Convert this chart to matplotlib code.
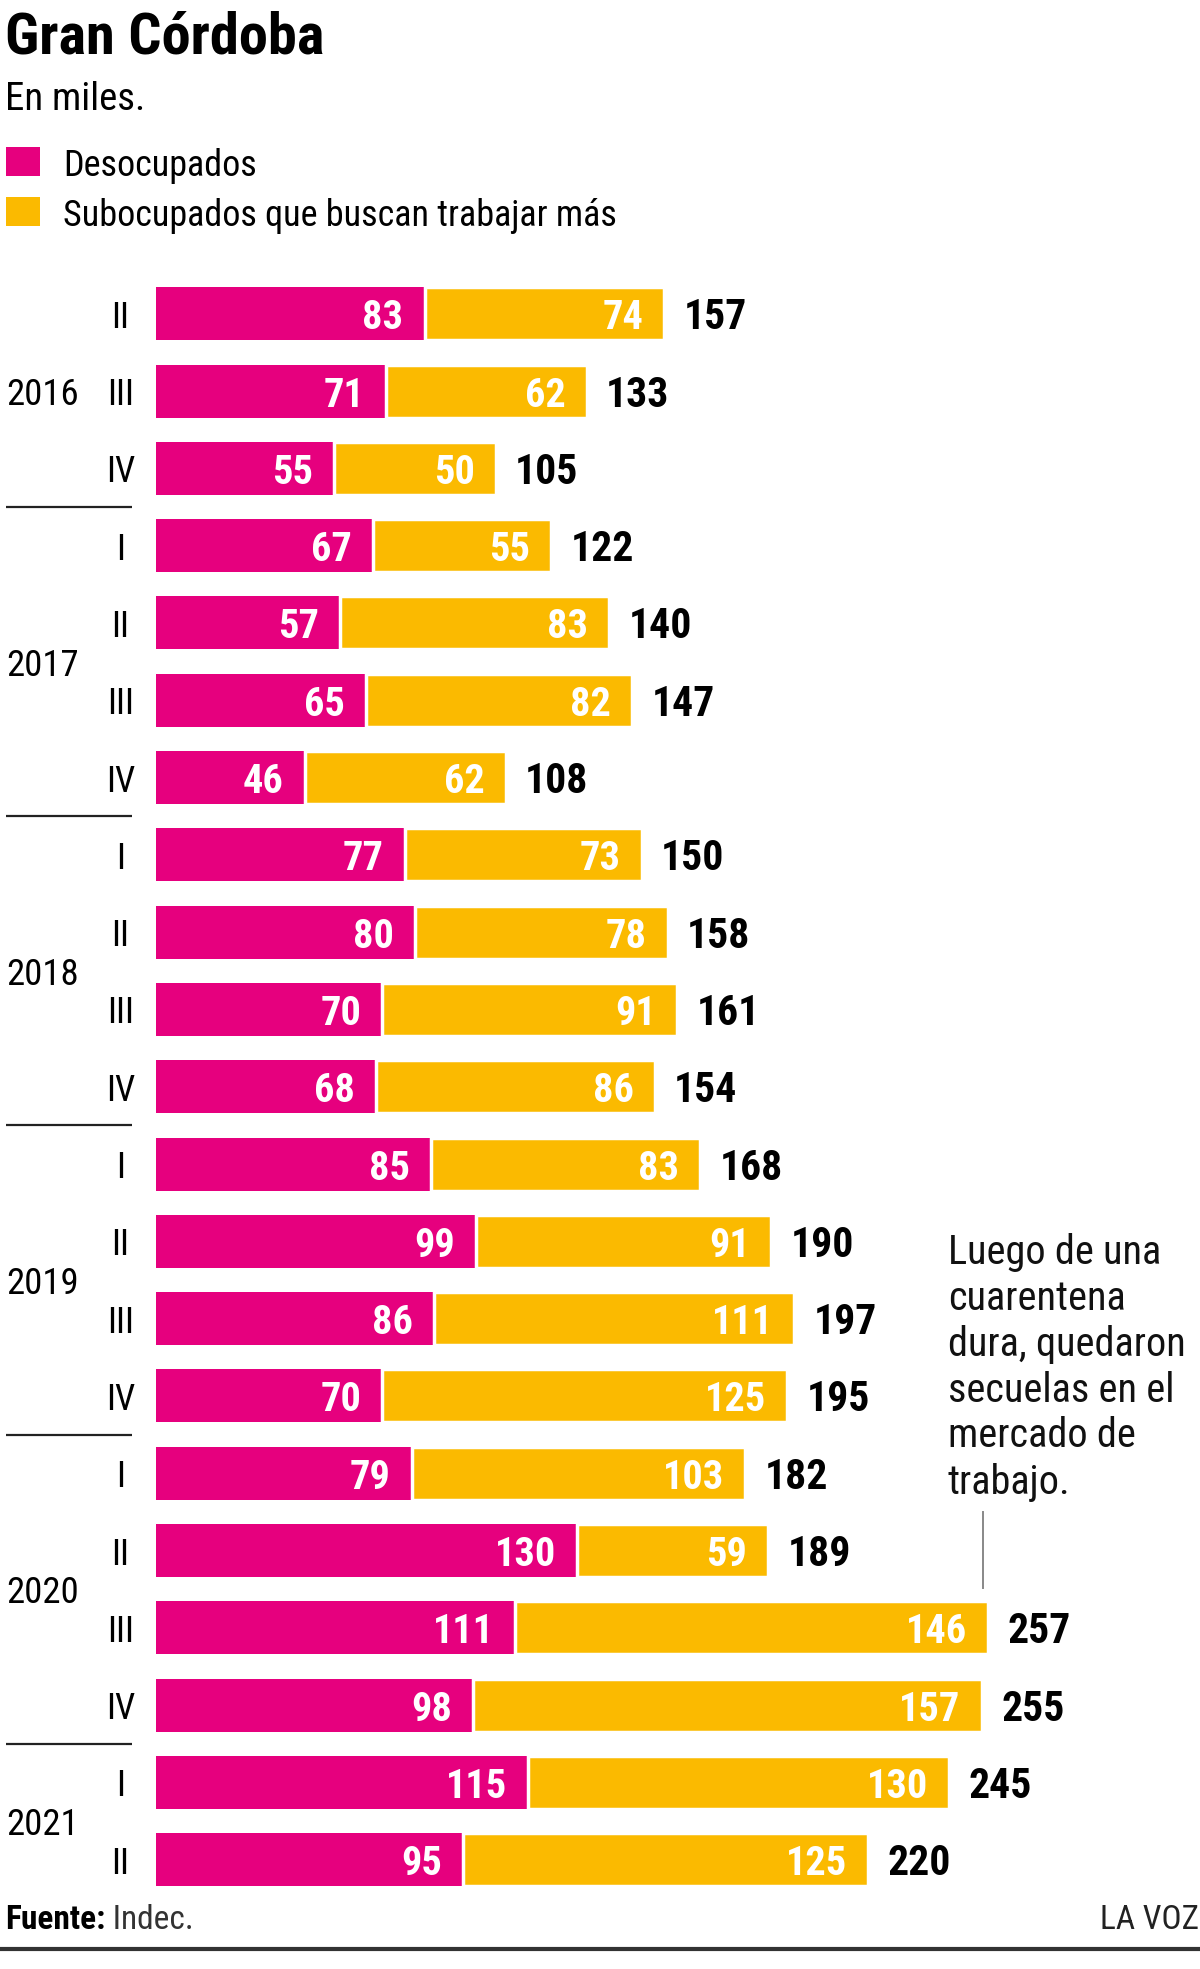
import matplotlib
matplotlib.use("Agg")
import matplotlib.pyplot as plt
from matplotlib import font_manager as fm

# ---------------- data ----------------
quarters = ["II", "III", "IV",
            "I", "II", "III", "IV",
            "I", "II", "III", "IV",
            "I", "II", "III", "IV",
            "I", "II", "III", "IV",
            "I", "II"]
years = ["2016", "2017", "2018", "2019", "2020", "2021"]
year_rows = [[0, 1, 2], [3, 4, 5, 6], [7, 8, 9, 10], [11, 12, 13, 14], [15, 16, 17, 18], [19, 20]]
desocupados = [83, 71, 55, 67, 57, 65, 46, 77, 80, 70, 68, 85, 99, 86, 70, 79, 130, 111, 98, 115, 95]
subocupados = [74, 62, 50, 55, 83, 82, 62, 73, 78, 91, 86, 83, 91, 111, 125, 103, 59, 146, 157, 130, 125]
totales = [157, 133, 105, 122, 140, 147, 108, 150, 158, 161, 154, 168, 190, 197, 195, 182, 189, 257, 255, 245, 220]

title = "Gran Córdoba"
subtitle = "En miles."
legend_labels = ["Desocupados", "Subocupados que buscan trabajar más"]
note_lines = ["Luego de una", "cuarentena", "dura, quedaron", "secuelas en el", "mercado de", "trabajo."]
source_bold = "Fuente:"
source_text = " Indec."
brand = "LA VOZ"

MAGENTA = "#E6007E"
YELLOW = "#FBBA00"

# ---------------- font ----------------
names = {f.name for f in fm.fontManager.ttflist}
FONT = "DejaVu Sans"
for cand in ["Roboto Condensed", "Liberation Sans Narrow", "Open Sans Condensed", "Noto Sans Condensed"]:
    if cand in names:
        FONT = cand
        break
plt.rcParams["font.family"] = [FONT, "DejaVu Sans"]

W, H = 1200, 1969
fig = plt.figure(figsize=(W / 100, H / 100), dpi=100)
fig.patch.set_facecolor("white")

# layout (pixels)
x0 = 155.6      # bar origin
ppu = 3.24      # pixels per unit
y0 = 313.8      # first row center
dy = 77.3       # row spacing

ax = fig.add_axes([0, 0, 1, 1])
ax.set_xlim(-x0 / ppu, (W - x0) / ppu)
ax.set_ylim((H - y0) / dy, -y0 / dy)
ax.axis("off")

rows = list(range(len(quarters)))
bh = 53 / dy
ax.barh(rows, desocupados, height=bh, color=MAGENTA, linewidth=0)
ax.barh(rows, subocupados, left=desocupados, height=bh, color=YELLOW,
        edgecolor="white", linewidth=2.5)

vsize = 29
for i in rows:
    d, s, t = desocupados[i], subocupados[i], totales[i]
    base = i + 0.2
    ax.text(d - 6.5, base, str(d), color="white", fontsize=vsize, fontweight="bold",
            ha="right", va="baseline")
    ax.text(d + s - 6.5, base, str(s), color="white", fontsize=vsize, fontweight="bold",
            ha="right", va="baseline")
    ax.text(t + 6, base, str(t), color="black", fontsize=vsize + 1, fontweight="heavy",
            ha="left", va="baseline")
    ax.text((120.5 - x0) / ppu, i + 0.18, quarters[i], color="black", fontsize=26,
            ha="center", va="baseline")

# year labels and separators
for yr, rr in zip(years, year_rows):
    yc = (rr[0] + rr[-1]) / 2
    ax.text((79 - x0) / ppu, yc + 0.18, yr, fontsize=26.5, ha="right", va="baseline")
for rr in year_rows[:-1]:
    ys = rr[-1] + 0.5
    ax.plot([(6 - x0) / ppu, (132 - x0) / ppu], [ys, ys], color="#222222", lw=1.6,
            solid_capstyle="butt")

# annotation
def fy(py):
    return 1 - py / H

note_base = [1264, 1310, 1356, 1402, 1447, 1494]
for ln, b in zip(note_lines, note_base):
    fig.text(948 / W, fy(b), ln, fontsize=29, ha="left", va="baseline", color="#111111")
ax.plot([(983 - x0) / ppu] * 2, [(1512 - y0) / dy, (1588 - y0) / dy], color="#888888", lw=1.4)

# title, subtitle, legend
fig.text(5 / W, fy(53), title, fontsize=42, fontweight="heavy", ha="left", va="baseline")
fig.text(5 / W, fy(110), subtitle, fontsize=28, ha="left", va="baseline")
for k, (lab, col) in enumerate(zip(legend_labels, [MAGENTA, YELLOW])):
    top = 147 + 50 * k
    fig.patches.append(plt.Rectangle((6 / W, fy(top + 29)), 34 / W, 29 / H,
                                     transform=fig.transFigure, color=col, lw=0))
    fig.text(63 / W, fy(top + 29), lab, fontsize=26, ha="left", va="baseline")

# footer
fb = 1929
t1 = fig.text(5 / W, fy(fb), source_bold, fontsize=24, fontweight="bold", ha="left", va="baseline")
r = fig.canvas.get_renderer()
bb = t1.get_window_extent(renderer=r)
fig.text(bb.x1 / W, fy(fb), source_text, fontsize=24, ha="left", va="baseline", color="#333333")
fig.text(1199 / W, fy(fb), brand, fontsize=24, ha="right", va="baseline", color="#222222")
fig.add_artist(plt.Line2D([0, 1], [fy(1949), fy(1949)], transform=fig.transFigure,
                          color="#333333", lw=3))

fig.savefig("out.png", dpi=100, facecolor="white")
